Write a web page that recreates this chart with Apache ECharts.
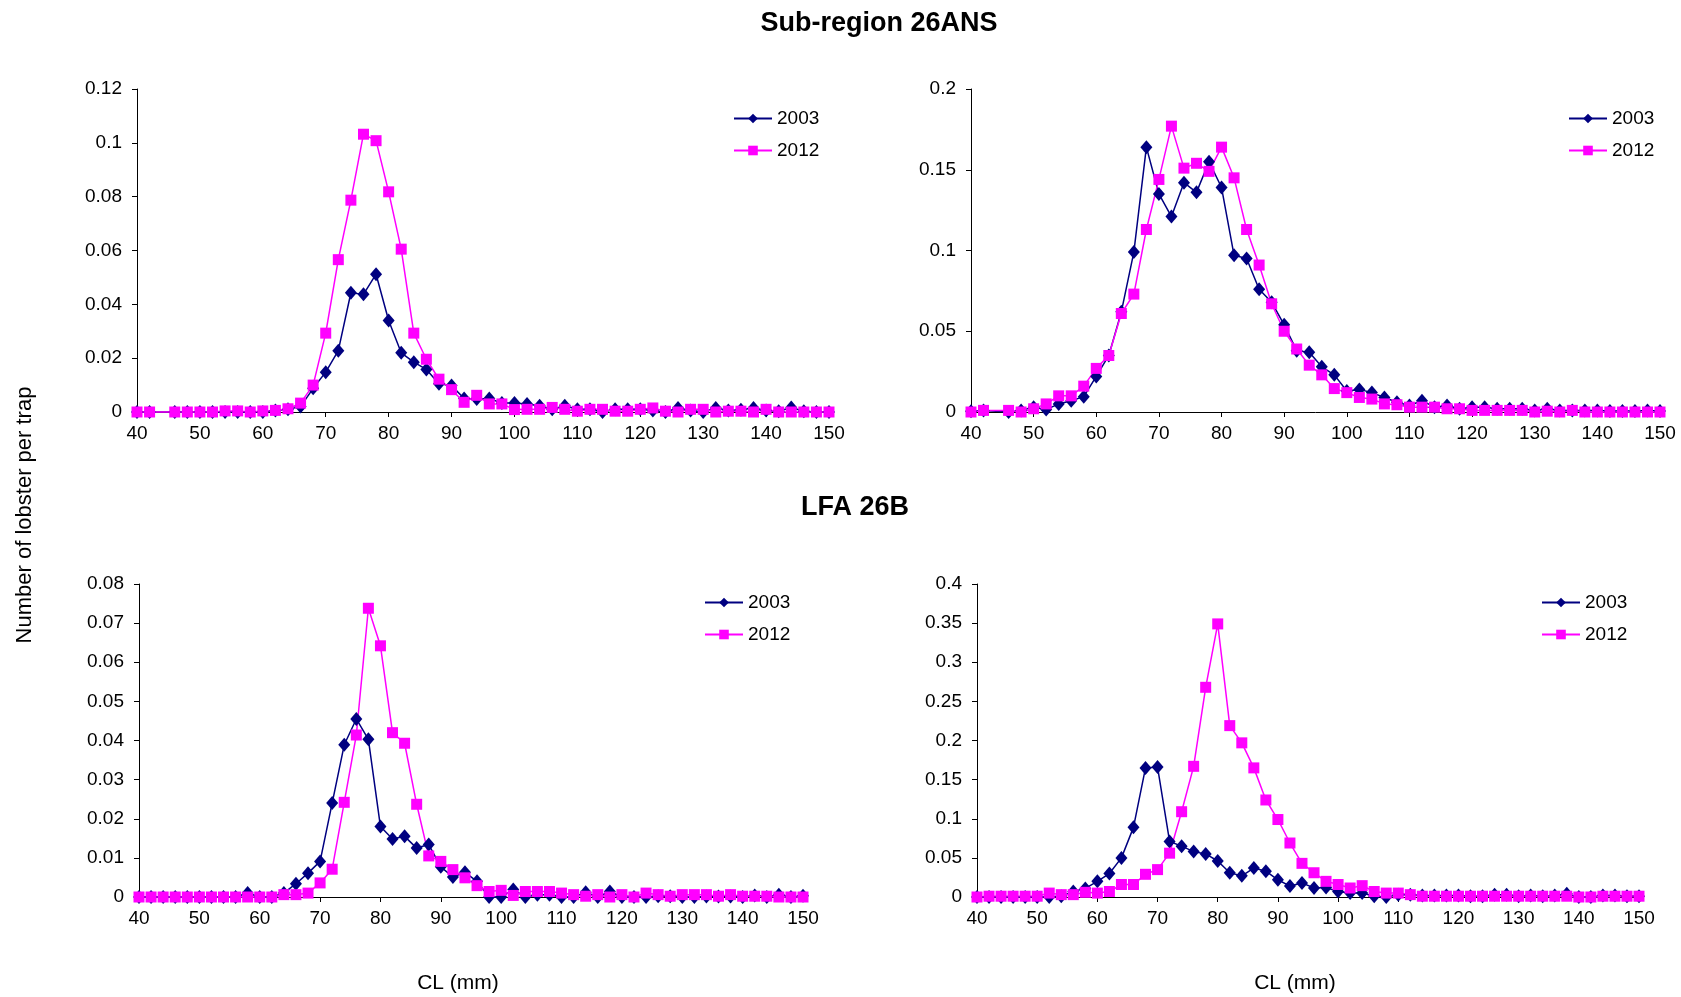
<!DOCTYPE html>
<html>
<head>
<meta charset="utf-8">
<title>Lobster size distribution</title>
<script src="https://cdn.jsdelivr.net/npm/echarts@6/dist/echarts.min.js"></script>
<style>
  html, body { margin: 0; padding: 0; background: #ffffff; }
  #chart { width: 1681px; height: 997px; }
</style>
</head>
<body>
<div id="chart"></div>
<script>
// Carapace length classes (mm); the Sub-region 26ANS survey has no 44 mm class
const clTop = [40,42,46,48,50,52,54,56,58,60,62,64,66,68,70,72,74,76,78,80,82,84,86,88,90,92,94,96,98,100,102,104,106,108,110,112,114,116,118,120,122,124,126,128,130,132,134,136,138,140,142,144,146,148,150];
const clBottom = [40,42,44,46,48,50,52,54,56,58,60,62,64,66,68,70,72,74,76,78,80,82,84,86,88,90,92,94,96,98,100,102,104,106,108,110,112,114,116,118,120,122,124,126,128,130,132,134,136,138,140,142,144,146,148,150];

// Sub-region 26ANS, left panel
const ans1_2003 = [0,0,0,0,0,0,0,0,0,0,0.0006,0.001,0.002,0.0088,0.0148,0.0228,0.0443,0.0437,0.0512,0.034,0.022,0.0185,0.0158,0.0105,0.0098,0.005,0.0048,0.005,0.0033,0.0033,0.003,0.0023,0.001,0.0023,0.001,0.001,0,0.001,0.001,0.001,0.0006,0,0.0015,0.0006,0,0.0015,0.0006,0.0008,0.0015,0.0006,0.0003,0.0017,0.0003,0,0];
const ans1_2012 = [0,0,0,0,0,0,0.0004,0.0004,0,0.0004,0.0006,0.0012,0.0033,0.01,0.0293,0.0566,0.0787,0.1032,0.1008,0.0818,0.0605,0.0293,0.0196,0.0122,0.0083,0.0036,0.0062,0.003,0.003,0.0009,0.001,0.001,0.0017,0.001,0.0003,0.001,0.001,0.0003,0.0003,0.001,0.0015,0.0003,0,0.001,0.001,0,0.0003,0.0003,0,0.001,0,0,0,0,0];

// Sub-region 26ANS, right panel
const ans2_2003 = [0.0005,0.001,0,0.001,0.003,0.0015,0.005,0.007,0.0095,0.022,0.035,0.062,0.099,0.164,0.135,0.121,0.142,0.136,0.155,0.139,0.097,0.095,0.076,0.068,0.054,0.038,0.037,0.028,0.023,0.013,0.014,0.012,0.009,0.006,0.004,0.007,0.003,0.004,0.002,0.003,0.003,0.002,0.002,0.002,0.001,0.002,0.001,0.001,0.001,0.001,0.0006,0.0006,0.0006,0.001,0.0006];
const ans2_2012 = [0,0.001,0.001,0,0.002,0.005,0.01,0.01,0.016,0.027,0.035,0.061,0.073,0.113,0.144,0.177,0.151,0.154,0.149,0.164,0.145,0.113,0.091,0.067,0.05,0.039,0.029,0.023,0.0145,0.012,0.009,0.008,0.005,0.0045,0.003,0.003,0.003,0.002,0.002,0.001,0.001,0.001,0.001,0.001,0,0.0005,0,0.001,0,0,0,0,0,0,0];

// LFA 26B, left panel
const lfa1_2003 = [0,0,0,0,0,0,0,0,0,0.001,0,0,0.001,0.0034,0.0061,0.0091,0.024,0.0389,0.0455,0.0403,0.018,0.0148,0.0155,0.0125,0.0134,0.0077,0.0051,0.0063,0.004,0,0,0.0019,0,0.0006,0.0006,0,0,0.0012,0,0.0014,0,0,0,0.0002,0.0002,0,0,0.0001,0.0001,0.0001,0,0.0004,0,0.0006,0,0.0003];
const lfa1_2012 = [0,0,0,0,0,0,0,0,0,0,0,0,0.0006,0.0006,0.001,0.0036,0.0071,0.0242,0.0414,0.0738,0.0642,0.042,0.0393,0.0237,0.0105,0.0091,0.007,0.0049,0.0029,0.0014,0.0017,0.0004,0.0014,0.0014,0.0014,0.001,0.0006,0.0002,0.0006,0,0.0006,0,0.001,0.0006,0.0002,0.0006,0.0006,0.0006,0.0002,0.0006,0.0002,0.0002,0.0002,0,0,0];

// LFA 26B, right panel
const lfa2_2003 = [0,0,0,0,0,0,0,0.001,0.007,0.011,0.02,0.03,0.05,0.089,0.165,0.166,0.071,0.065,0.058,0.055,0.046,0.031,0.027,0.037,0.033,0.022,0.014,0.018,0.0115,0.012,0.007,0.005,0.005,0.001,0,0.003,0.003,0.002,0.002,0.002,0.002,0.001,0.001,0.003,0.003,0.001,0.002,0.001,0.002,0.004,0,0,0.002,0.002,0.001,0.001];
const lfa2_2012 = [0,0.001,0.001,0.001,0.001,0.001,0.005,0.003,0.003,0.006,0.005,0.007,0.016,0.016,0.029,0.035,0.056,0.109,0.167,0.268,0.349,0.219,0.197,0.165,0.124,0.099,0.069,0.043,0.031,0.02,0.016,0.0115,0.0145,0.007,0.005,0.005,0.003,0.001,0.001,0.001,0.001,0.001,0.001,0.001,0.001,0.001,0.001,0.001,0.001,0.001,0,0,0.001,0.001,0.001,0.001];

// Axis tick settings
const yMax = [0.12, 0.2, 0.08, 0.4];
const yStep = [0.02, 0.05, 0.01, 0.05];
const xMin = 40, xMax = 150, xStep = 10;
const years = ['2003', '2012'];

const FONT = '"Liberation Sans", Arial, Helvetica, sans-serif';
const NAVY = '#000080';
const MAGENTA = '#FF00FF';

const panels = [
  { x: clTop,    a: ans1_2003, b: ans1_2012, grid: { left: 137, top: 89,  width: 692, height: 323 }, legend: { left: 733,  top: 109 } },
  { x: clTop,    a: ans2_2003, b: ans2_2012, grid: { left: 971, top: 89,  width: 689, height: 323 }, legend: { left: 1568, top: 109 } },
  { x: clBottom, a: lfa1_2003, b: lfa1_2012, grid: { left: 139, top: 584, width: 664, height: 313 }, legend: { left: 704,  top: 593 } },
  { x: clBottom, a: lfa2_2003, b: lfa2_2012, grid: { left: 977, top: 584, width: 662, height: 313 }, legend: { left: 1541, top: 593 } }
];

const zip = (xs, ys) => xs.map((v, i) => [v, ys[i]]);

const grids = [], xAxes = [], yAxes = [], series = [], legends = [];

panels.forEach((p, i) => {
  grids.push(Object.assign({ containLabel: false }, p.grid));
  xAxes.push({
    type: 'value', gridIndex: i, min: xMin, max: xMax, interval: xStep,
    axisLine: { onZero: true, lineStyle: { color: '#000', width: 1 } },
    axisTick: { show: true, inside: false, length: 5, lineStyle: { color: '#000' } },
    axisLabel: { color: '#000', fontFamily: FONT, fontSize: 19, margin: 12 },
    splitLine: { show: false }
  });
  yAxes.push({
    type: 'value', gridIndex: i, min: 0, max: yMax[i], interval: yStep[i],
    axisLine: { show: true, lineStyle: { color: '#000', width: 1 } },
    axisTick: { show: true, inside: false, length: 5, lineStyle: { color: '#000' } },
    axisLabel: { color: '#000', fontFamily: FONT, fontSize: 19, margin: 15 },
    splitLine: { show: false }
  });
  series.push({
    name: years[0], type: 'line', xAxisIndex: i, yAxisIndex: i,
    data: zip(p.x, p.a), symbol: 'diamond', symbolSize: [12, 14],
    showAllSymbol: true, clip: false, animation: false,
    lineStyle: { color: NAVY, width: 1.5 }, itemStyle: { color: NAVY }
  });
  series.push({
    name: years[1], type: 'line', xAxisIndex: i, yAxisIndex: i,
    data: zip(p.x, p.b), symbol: 'rect', symbolSize: 11,
    showAllSymbol: true, clip: false, animation: false,
    lineStyle: { color: MAGENTA, width: 1.5 }, itemStyle: { color: MAGENTA }
  });
  legends.push({
    data: years, orient: 'vertical', left: p.legend.left, top: p.legend.top,
    padding: 0, itemWidth: 38, itemHeight: 12, itemGap: 13, selectedMode: false,
    textStyle: { color: '#000', fontFamily: FONT, fontSize: 19, lineHeight: 19 }
  });
});

const txt = (text, x, y, font, rotation) => ({
  type: 'text', x: x, y: y, rotation: rotation || 0, silent: true,
  style: { text: text, font: font, fill: '#000', align: 'center', verticalAlign: 'middle', textAlign: 'center', textVerticalAlign: 'middle' }
});

const chart = echarts.init(document.getElementById('chart'), null, { renderer: 'canvas' });
chart.setOption({
  backgroundColor: '#ffffff',
  animation: false,
  grid: grids,
  xAxis: xAxes,
  yAxis: yAxes,
  legend: legends,
  series: series,
  graphic: [
    txt('Sub-region 26ANS', 879, 24, 'bold 27px ' + FONT),
    txt('LFA 26B', 855, 508, 'bold 27px ' + FONT),
    txt('Number of lobster per trap', 25, 515, '22px ' + FONT, Math.PI / 2),
    txt('CL (mm)', 458, 983, '21px ' + FONT),
    txt('CL (mm)', 1295, 983, '21px ' + FONT)
  ]
});
</script>
</body>
</html>
